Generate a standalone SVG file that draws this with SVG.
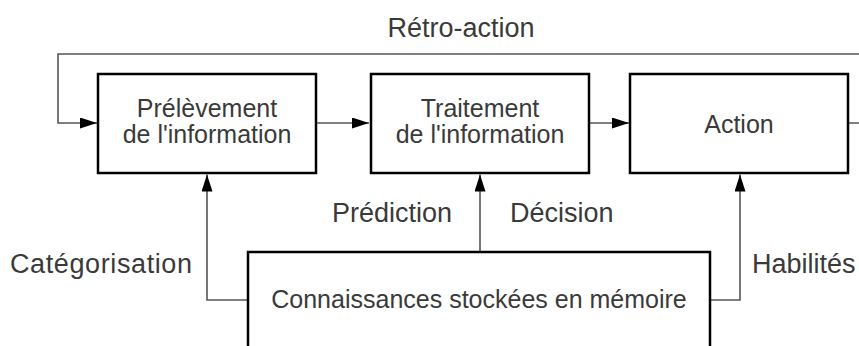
<svg xmlns="http://www.w3.org/2000/svg" width="859" height="346" viewBox="0 0 859 346">
<style>
.box{fill:#fff;stroke:#000;stroke-width:2.5}
.lbl{font-family:"Liberation Sans",Arial,sans-serif;font-size:25px;fill:#3a3a3a;text-anchor:middle}
.out{font-family:"Liberation Sans",Arial,sans-serif;font-size:27px;fill:#3a3a3a}
.con{fill:none;stroke:#555;stroke-width:1.6}
</style>
<defs>
<marker id="ah" viewBox="0 0 17 11" refX="17" refY="5.5" markerWidth="17" markerHeight="11" markerUnits="userSpaceOnUse" orient="auto">
<path d="M0,0 L17,5.5 L0,11 Z" fill="#000"/>
</marker>
</defs>
<rect width="859" height="346" fill="#fff"/>
<g id="connectors">
<path class="con" d="M848,123 H875 V54 H58 V123 H97" marker-end="url(#ah)"/>
<path class="con" d="M316,123 H369" marker-end="url(#ah)"/>
<path class="con" d="M589,123 H629" marker-end="url(#ah)"/>
<path class="con" d="M248,300 H207 V174.5" marker-end="url(#ah)"/>
<path class="con" d="M480,252 V174.5" marker-end="url(#ah)"/>
<path class="con" d="M710,300 H740 V174.5" marker-end="url(#ah)"/>
</g>
<g id="labels">
<text class="out" x="461" y="37" text-anchor="middle">Rétro-action</text>
<text class="out" x="10" y="273" textLength="182">Catégorisation</text>
<text class="out" x="752" y="273">Habilités</text>
<text class="out" x="452" y="222" text-anchor="end">Prédiction</text>
<text class="out" x="510" y="222">Décision</text>
</g>
<g id="prelevement">
<rect class="box" x="98" y="74" width="218" height="99"/>
<text class="lbl" x="207" y="117">Prélèvement</text>
<text class="lbl" x="207" y="143">de l'information</text>
</g>
<g id="traitement">
<rect class="box" x="371" y="74" width="218" height="99"/>
<text class="lbl" x="480" y="117">Traitement</text>
<text class="lbl" x="480" y="143">de l'information</text>
</g>
<g id="action">
<rect class="box" x="630" y="74" width="218" height="99"/>
<text class="lbl" x="739" y="133">Action</text>
</g>
<g id="memoire">
<rect class="box" x="248" y="252" width="462" height="130"/>
<text class="lbl" x="479" y="308">Connaissances stockées en mémoire</text>
</g>
</svg>
